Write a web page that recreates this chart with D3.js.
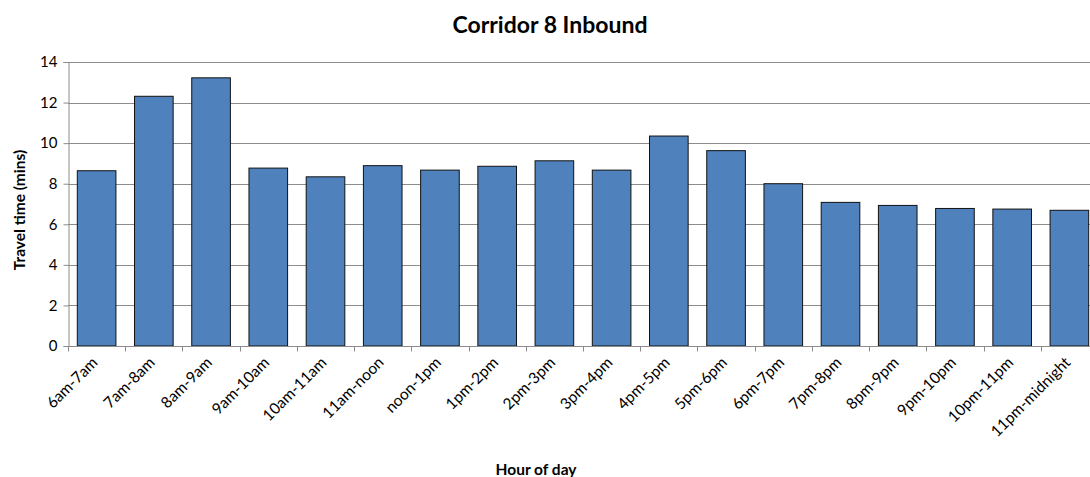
<!DOCTYPE html>
<html>
<head>
<meta charset="utf-8">
<script src="https://cdn.jsdelivr.net/npm/d3@7"></script>
<style>
    body { margin: 0; background: #fff; }
    text { font-family: Lato, "Open Sans", sans-serif; fill: #000; }
</style>
</head>
<body>
<div id="chart"></div>
<script>
(function(d3) {
    'use strict';

    var categories = ['6am-7am', '7am-8am', '8am-9am', '9am-10am', '10am-11am', '11am-noon',
        'noon-1pm', '1pm-2pm', '2pm-3pm', '3pm-4pm', '4pm-5pm', '5pm-6pm', '6pm-7pm',
        '7pm-8pm', '8pm-9pm', '9pm-10pm', '10pm-11pm', '11pm-midnight'];
    var travelTimes = [8.64, 12.31, 13.22, 8.77, 8.34, 8.89, 8.67, 8.86, 9.13, 8.67,
        10.35, 9.63, 8.0, 7.08, 6.93, 6.78, 6.75, 6.69];
    var yTicks = [0, 2, 4, 6, 8, 10, 12, 14];

    var settings = {
        width: 1090,
        height: 477,
        left: 68,
        right: 1098,
        top: 62,
        bottom: 346
    };

    var svg = d3.select('#chart').append('svg')
        .attr('width', settings.width)
        .attr('height', settings.height);

    var x = d3.scaleBand()
        .domain(categories)
        .range([settings.left, settings.right])
        .paddingInner(0.325)
        .paddingOuter(0.1625);

    var y = d3.scaleLinear()
        .domain([0, 14])
        .range([settings.bottom, settings.top]);

    // gridlines
    svg.append('g')
        .selectAll('line')
        .data(yTicks.slice(1))
        .enter()
        .append('line')
        .attr('x1', settings.left)
        .attr('x2', settings.right)
        .attr('y1', function(d) { return Math.round(y(d)) + 0.5; })
        .attr('y2', function(d) { return Math.round(y(d)) + 0.5; })
        .attr('stroke', '#8c8c8c')
        .attr('stroke-width', 1);

    // bars
    svg.append('g')
        .selectAll('rect')
        .data(travelTimes)
        .enter()
        .append('rect')
        .attr('x', function(d, i) { return x(categories[i]); })
        .attr('y', function(d) { return y(d); })
        .attr('width', x.bandwidth())
        .attr('height', function(d) { return settings.bottom - y(d); })
        .attr('fill', '#4f81bd')
        .attr('stroke', '#111')
        .attr('stroke-width', 1);

    // y axis
    var yAxis = svg.append('g')
        .attr('transform', 'translate(' + (settings.left + 0.5) + ',0)')
        .call(d3.axisLeft(y).tickValues(yTicks).tickSize(5).tickPadding(6));
    yAxis.select('.domain').attr('stroke', '#8c8c8c');
    yAxis.selectAll('.tick line').attr('stroke', '#8c8c8c');
    yAxis.selectAll('.tick text')
        .style('font-size', '15px')
        .style('font-family', 'Lato, sans-serif');

    // x axis
    var xAxisG = svg.append('g')
        .attr('transform', 'translate(0,' + (settings.bottom + 0.5) + ')');
    xAxisG.append('line')
        .attr('x1', settings.left)
        .attr('x2', settings.right)
        .attr('stroke', '#8c8c8c');
    xAxisG.selectAll('.xtick')
        .data(d3.range(categories.length + 1))
        .enter()
        .append('line')
        .attr('class', 'xtick')
        .attr('x1', function(i) { return Math.round(settings.left + i * x.step()) + 0.5; })
        .attr('x2', function(i) { return Math.round(settings.left + i * x.step()) + 0.5; })
        .attr('y1', 0)
        .attr('y2', 5)
        .attr('stroke', '#8c8c8c');

    xAxisG.selectAll('.xlabel')
        .data(categories)
        .enter()
        .append('text')
        .attr('class', 'xlabel')
        .attr('text-anchor', 'end')
        .attr('transform', function(d) {
            var cx = x(d) + x.bandwidth() / 2 + 2;
            return 'translate(' + cx + ',17) rotate(-45)';
        })
        .style('font-size', '15.5px')
        .text(function(d) { return d; });

    // titles
    svg.append('text')
        .attr('x', 550)
        .attr('y', 33)
        .attr('text-anchor', 'middle')
        .style('font-size', '23px')
        .style('font-weight', 'bold')
        .text('Corridor 8 Inbound');

    svg.append('text')
        .attr('x', 536)
        .attr('y', 475)
        .attr('text-anchor', 'middle')
        .style('font-size', '15.5px')
        .style('font-weight', 'bold')
        .text('Hour of day');

    svg.append('text')
        .attr('transform', 'translate(25,210) rotate(-90)')
        .attr('text-anchor', 'middle')
        .style('font-size', '15.5px')
        .style('font-weight', 'bold')
        .text('Travel time (mins)');

})(window.d3);
</script>
</body>
</html>
